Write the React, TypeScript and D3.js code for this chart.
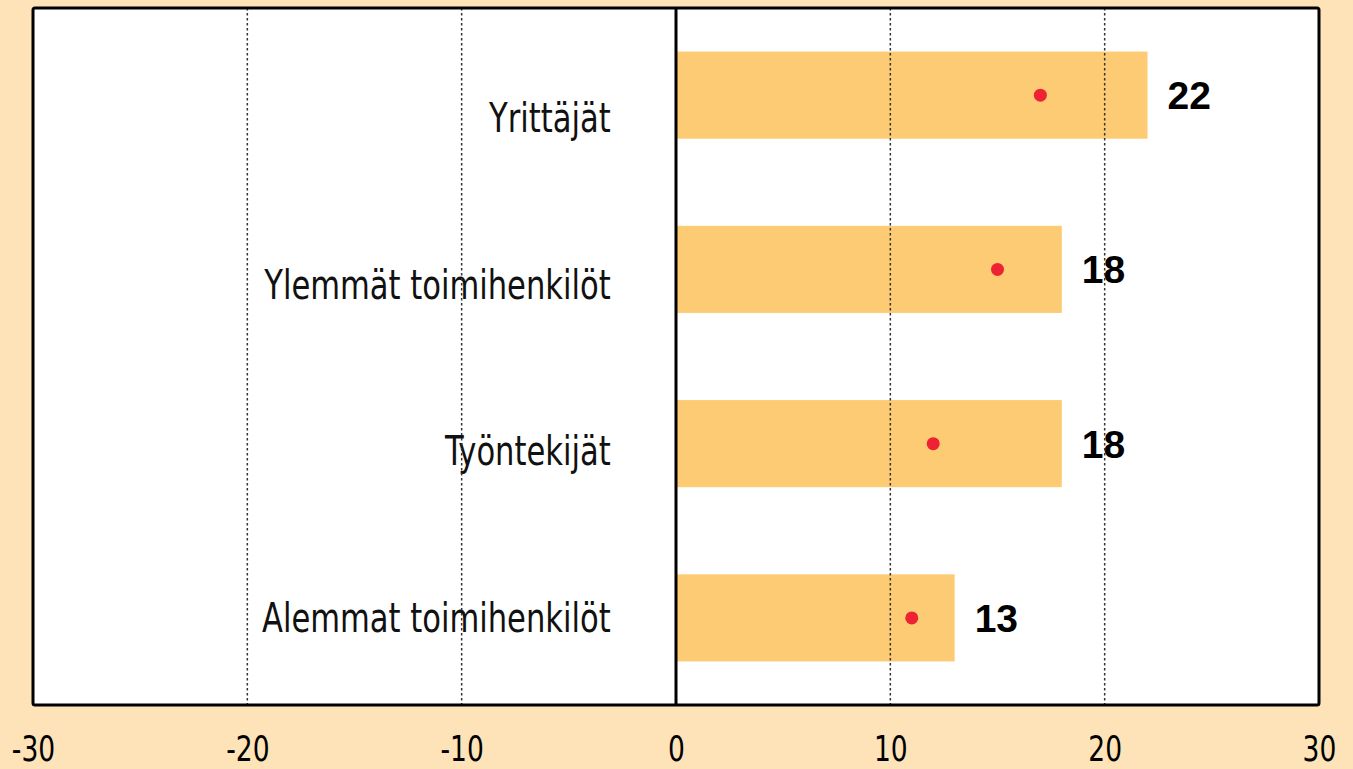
import React, { useRef, useEffect } from 'react';
import * as d3 from 'd3';

// chart data
const categories = ['Yrittäjät', 'Ylemmät toimihenkilöt', 'Työntekijät', 'Alemmat toimihenkilöt'];
const barValues = [22, 18, 18, 13];
const dotValues = [17, 15, 12, 11];
const xTicks = [-30, -20, -10, 0, 10, 20, 30];
const gridTicks = [-20, -10, 10, 20];

const narrow = '"Liberation Sans Narrow", "DejaVu Sans Condensed", "Arial Narrow", sans-serif';

const App = () => {
    const svgRef = useRef<SVGSVGElement>(null);
    const svg_width = 1353;
    const svg_height = 769;
    const margin = { top: 8, right: 34, bottom: 64, left: 33 };

    useEffect(() => {
        const svg = d3.select(svgRef.current);
        svg.selectAll('*').remove();

        const width = svg_width - margin.left - margin.right;
        const height = svg_height - margin.top - margin.bottom;

        // background
        svg.append('rect')
            .attr('width', svg_width)
            .attr('height', svg_height)
            .attr('fill', '#fee3b9');

        const focus = svg.append('g')
            .attr('transform', 'translate(' + margin.left + ',' + margin.top + ')');

        // scales
        const x = d3.scaleLinear().domain([-30, 30]).range([0, width]);
        const y = d3.scaleBand()
            .domain(categories)
            .range([0, height])
            .paddingInner(0.5)
            .paddingOuter(0.25);
        // category labels sit a bit under the bars
        const yLabel = d3.scalePoint()
            .domain(categories)
            .range([y(categories[0])! + y.bandwidth() / 2 + 37, y(categories[3])! + y.bandwidth() / 2 + 14]);

        // plot area
        focus.append('rect')
            .attr('width', width)
            .attr('height', height)
            .attr('fill', '#ffffff');

        // bars
        focus.selectAll('.bar')
            .data(categories)
            .enter()
            .append('rect')
            .classed('bar', true)
            .attr('x', x(0))
            .attr('y', d => y(d)!)
            .attr('width', (d, i) => x(barValues[i]) - x(0))
            .attr('height', y.bandwidth())
            .attr('fill', '#fdcb74');

        // dots
        focus.selectAll('.dot')
            .data(categories)
            .enter()
            .append('circle')
            .attr('cx', (d, i) => x(dotValues[i]))
            .attr('cy', d => y(d)! + y.bandwidth() / 2)
            .attr('r', 6.5)
            .attr('fill', '#ee2233');

        // category labels (squeezed to look condensed)
        focus.selectAll('.cat-label')
            .data(categories)
            .enter()
            .append('text')
            .attr('transform', d => 'translate(' + (x(-3) - 1) + ',' + yLabel(d) + ') scale(0.85,1)')
            .attr('text-anchor', 'end')
            .style('font-family', narrow)
            .style('font-size', '40px')
            .attr('fill', '#111')
            .text(d => d);

        // value labels
        focus.selectAll('.val-label')
            .data(categories)
            .enter()
            .append('text')
            .attr('x', (d, i) => x(barValues[i]) + 20)
            .attr('y', d => y(d)! + y.bandwidth() / 2 + 14)
            .style('font-family', '"Liberation Sans", Arial, sans-serif')
            .style('font-weight', 'bold')
            .style('font-size', '39px')
            .attr('fill', '#000')
            .text((d, i) => barValues[i]);

        // dotted grid, on top of the text
        focus.selectAll('.grid')
            .data(gridTicks)
            .enter()
            .append('line')
            .attr('x1', d => x(d))
            .attr('x2', d => x(d))
            .attr('y1', 0)
            .attr('y2', height)
            .attr('stroke', '#333')
            .attr('stroke-width', 1.5)
            .attr('stroke-dasharray', '2.5,2.5');

        // zero line
        focus.append('line')
            .attr('x1', x(0))
            .attr('x2', x(0))
            .attr('y1', 0)
            .attr('y2', height)
            .attr('stroke', '#000')
            .attr('stroke-width', 3);

        // frame
        focus.append('rect')
            .attr('width', width)
            .attr('height', height)
            .attr('rx', 2)
            .attr('fill', 'none')
            .attr('stroke', '#000')
            .attr('stroke-width', 3);

        // x axis
        const xAxis = d3.axisBottom(x).tickValues(xTicks).tickSize(0).tickPadding(0)
            .tickFormat(d => String(d));
        const x_axis = svg.append('g')
            .attr('transform', 'translate(' + margin.left + ',' + (margin.top + height) + ')')
            .call(xAxis);
        x_axis.select('.domain').remove();
        x_axis.selectAll('text')
            .attr('y', 56)
            .attr('dy', 0)
            .attr('transform', 'scale(0.82,1)')
            .style('font-family', narrow)
            .style('font-size', '36px')
            .attr('fill', '#000');
    // eslint-disable-next-line
    }, []);

    return (
        <svg ref={svgRef} width={svg_width} height={svg_height}
            style={{ position: 'absolute', left: 0, top: 0, display: 'block' }}>
        </svg>
    );
};

export default App;
